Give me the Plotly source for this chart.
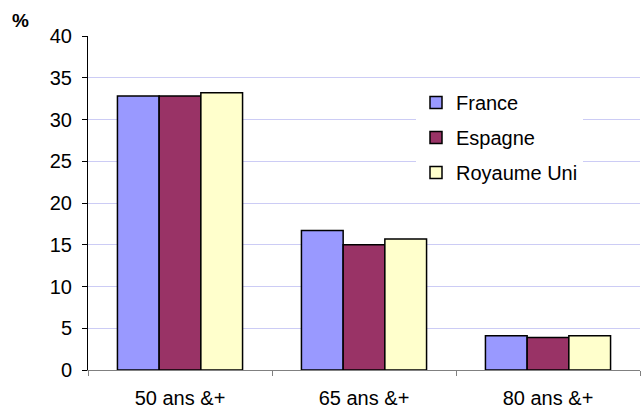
import plotly.graph_objects as go

categories = ["50 ans &+", "65 ans &+", "80 ans &+"]
france = [32.8, 16.7, 4.1]
espagne = [32.8, 15.0, 3.9]
royaume_uni = [33.2, 15.7, 4.1]
y_ticks = [0, 5, 10, 15, 20, 25, 30, 35, 40]

series = [
    ("France", france, "#9999ff"),
    ("Espagne", espagne, "#993366"),
    ("Royaume Uni", royaume_uni, "#ffffcc"),
]

W, H = 643, 412
ML, MR, MT, MB = 88, 3, 36, 42
PW, PH = W - ML - MR, H - MT - MB

fig = go.Figure()
for name, vals, color in series:
    fig.add_trace(go.Bar(
        x=categories, y=vals, name=name, legendgroup=name,
        marker=dict(color=color, line=dict(color="#000000", width=1.5)),
    ))

fig.update_layout(
    width=W, height=H,
    margin=dict(l=ML, r=MR, t=MT, b=MB),
    paper_bgcolor="white", plot_bgcolor="white",
    barmode="group", bargap=0.32, bargroupgap=0,
    font=dict(family="Liberation Sans, Arial, sans-serif", size=20, color="#000000"),
    legend=dict(
        x=(416 - ML) / PW, y=(H - MB - 83) / PH, xanchor="left", yanchor="top",
        bgcolor="white", font=dict(size=20),
        traceorder="grouped", tracegroupgap=6,
    ),
    xaxis=dict(
        showline=True, linecolor="#808080", linewidth=1,
        ticks="outside", tickson="boundaries", ticklen=5, tickcolor="#808080",
        showgrid=False, ticklabelstandoff=10,
    ),
    yaxis=dict(
        range=[0, 40], tickvals=y_ticks,
        showline=True, linecolor="#000000", linewidth=1,
        ticks="outside", ticklen=5, tickcolor="#000000",
        showgrid=True, gridcolor="#ccccf5", gridwidth=1,
        zeroline=False, ticklabelstandoff=6,
    ),
    annotations=[dict(
        text="<b>%</b>", xref="paper", yref="paper",
        x=(20 - ML) / PW, y=(H - MB - 20) / PH,
        xanchor="center", yanchor="middle",
        showarrow=False, font=dict(size=19),
    )],
)

fig.write_html("out.html")
